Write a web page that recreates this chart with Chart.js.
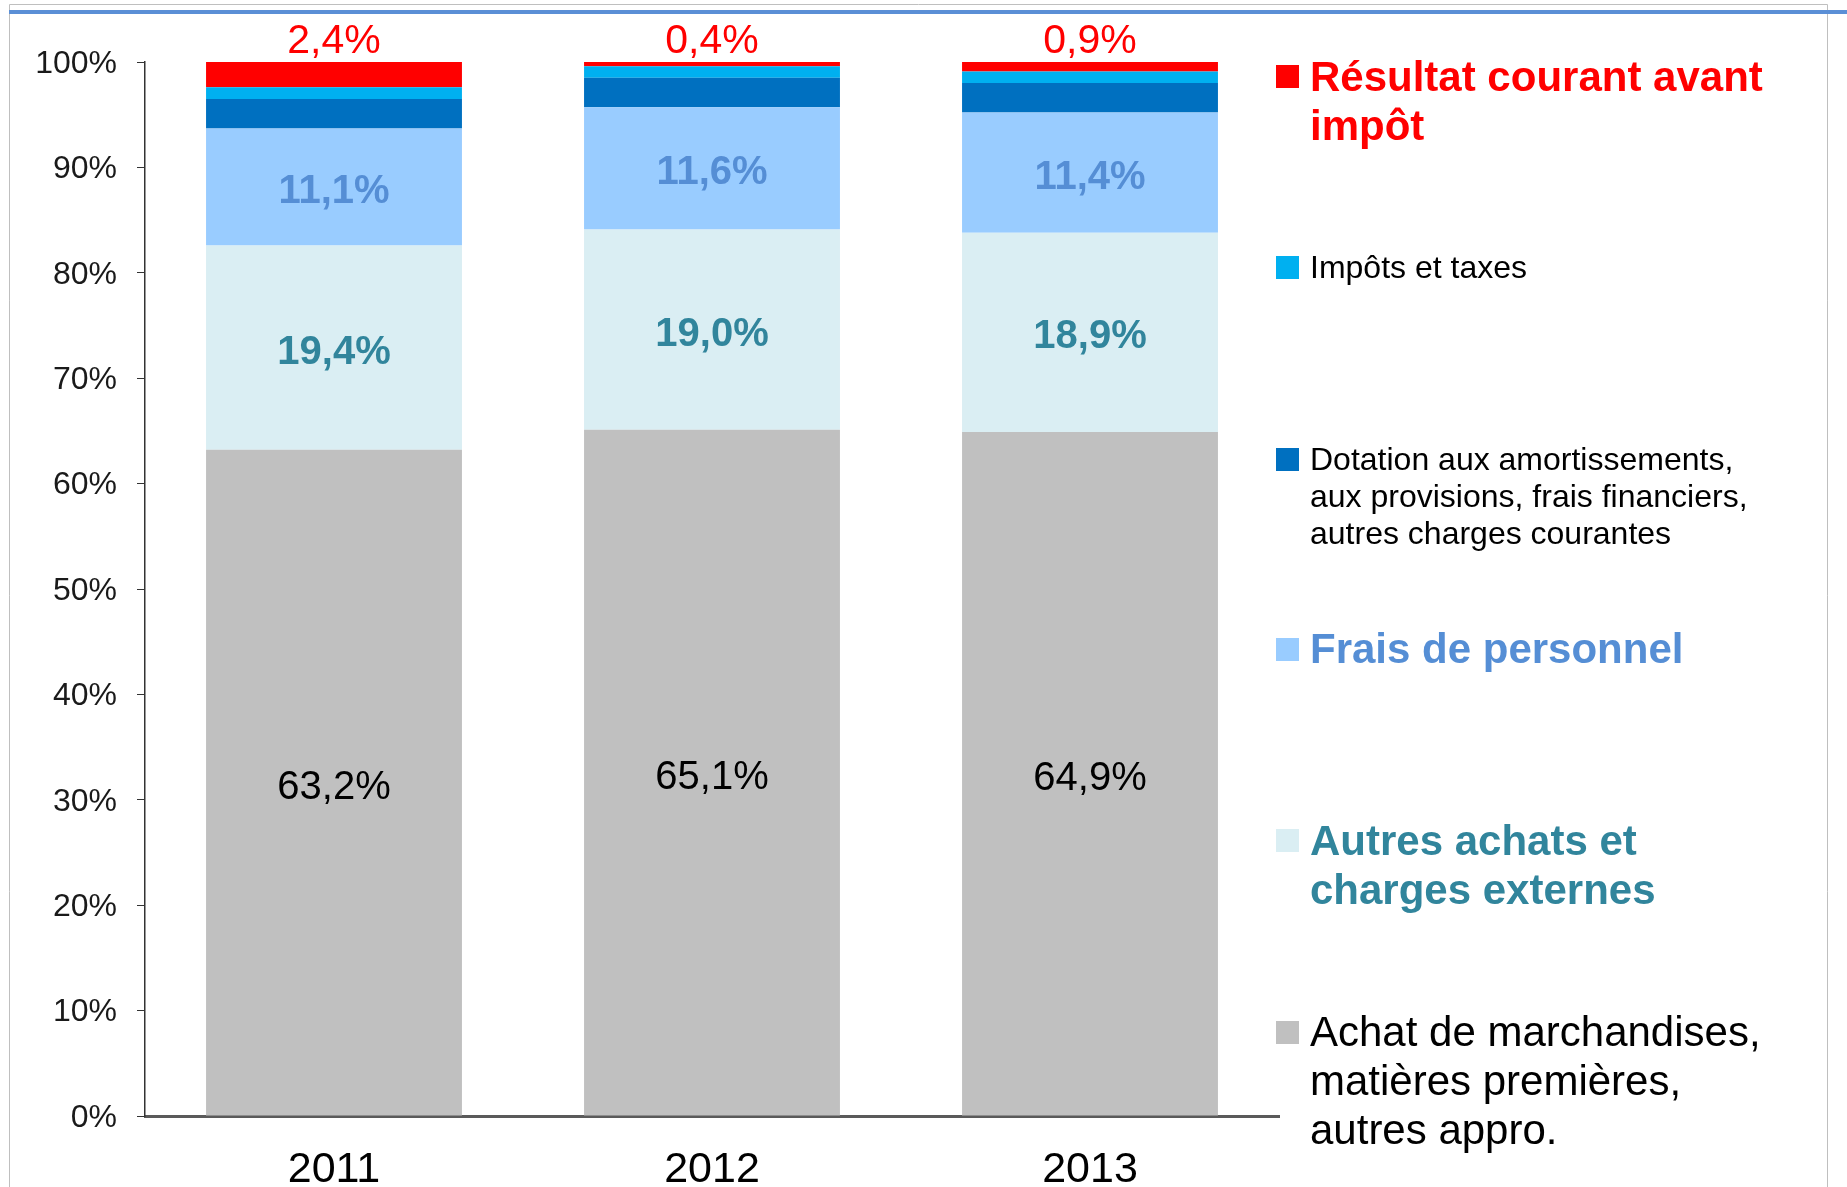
<!DOCTYPE html>
<html>
<head>
<meta charset="utf-8">
<script src="https://cdn.jsdelivr.net/npm/chart.js@4.4.0/dist/chart.umd.min.js"></script>
<style>
  html, body { margin: 0; padding: 0; background: #fff; }
  canvas { display: block; }
</style>
</head>
<body>
<canvas id="chart" width="1847" height="1187"></canvas>
<script>
// data
const years = ['2011', '2012', '2013'];
const achat = [63.2, 65.1, 64.9];
const autres = [19.4, 19.0, 18.9];
const frais = [11.1, 11.6, 11.4];
const dotation = [2.8, 2.8, 2.8];
const impots = [1.1, 1.1, 1.1];
const resultat = [2.4, 0.4, 0.9];
const yTicks = [0, 10, 20, 30, 40, 50, 60, 70, 80, 90, 100];

const FONT = '"Liberation Sans", Arial, sans-serif';

function pct(v) {
    return v.toFixed(1).replace('.', ',') + '%';
}

// labels inside / above the bars
const labelStyle = {
    0: { font: '40px ' + FONT, color: '#000000' },
    1: { font: 'bold 40px ' + FONT, color: '#31859C' },
    2: { font: 'bold 40px ' + FONT, color: '#558ED5' },
    5: { font: '41px ' + FONT, color: '#FF0000', above: true }
};

const barLabels = {
    id: 'barLabels',
    afterDatasetsDraw(chart) {
        const ctx = chart.ctx;
        ctx.save();
        ctx.textAlign = 'center';
        ctx.textBaseline = 'middle';
        chart.data.datasets.forEach((ds, i) => {
            const st = labelStyle[i];
            if (!st) return;
            const meta = chart.getDatasetMeta(i);
            meta.data.forEach((bar, j) => {
                ctx.font = st.font;
                ctx.fillStyle = st.color;
                const y = st.above ? bar.y - 20 : (bar.y + bar.base) / 2 + 5;
                ctx.fillText(pct(ds.data[j]), bar.x, y);
            });
        });
        ctx.restore();
    }
};

// legend on the right, each entry at its own height
const legendItems = [
    { color: '#FF0000', box: 65, lines: ['Résultat courant avant', 'impôt'], base: [91, 140], font: 'bold 42px ' + FONT, text: '#FF0000' },
    { color: '#00B0F0', box: 256, lines: ['Impôts et taxes'], base: [278], font: '32px ' + FONT, text: '#000000' },
    { color: '#0070C0', box: 448, lines: ['Dotation aux amortissements,', 'aux provisions, frais financiers,', 'autres charges courantes'], base: [470, 507, 544], font: '32px ' + FONT, text: '#000000' },
    { color: '#99CCFF', box: 638, lines: ['Frais de personnel'], base: [663], font: 'bold 42px ' + FONT, text: '#558ED5' },
    { color: '#DAEEF3', box: 829, lines: ['Autres achats et', 'charges externes'], base: [855, 904], font: 'bold 42px ' + FONT, text: '#31859C' },
    { color: '#C0C0C0', box: 1021, lines: ['Achat de marchandises,', 'matières premières,', 'autres appro.'], base: [1046, 1095, 1144], font: '42px ' + FONT, text: '#000000' }
];

const sideLegend = {
    id: 'sideLegend',
    afterDraw(chart) {
        const ctx = chart.ctx;
        ctx.save();
        ctx.textAlign = 'left';
        ctx.textBaseline = 'alphabetic';
        legendItems.forEach(it => {
            ctx.fillStyle = it.color;
            ctx.fillRect(1276, it.box, 23, 23);
            ctx.font = it.font;
            ctx.fillStyle = it.text;
            it.lines.forEach((l, k) => ctx.fillText(l, 1310, it.base[k]));
        });
        ctx.restore();
    }
};

// slide frame
const frame = {
    id: 'frame',
    beforeDraw(chart) {
        const ctx = chart.ctx;
        ctx.save();
        ctx.strokeStyle = '#BFBFBF';
        ctx.lineWidth = 1;
        ctx.beginPath();
        ctx.moveTo(9.5, 1187);
        ctx.lineTo(9.5, 4.5);
        ctx.lineTo(1827.5, 4.5);
        ctx.lineTo(1827.5, 1187);
        ctx.stroke();
        ctx.fillStyle = '#5B8FD6';
        ctx.fillRect(9, 10, 1838, 4);
        ctx.restore();
    }
};

function series(label, data, color) {
    return { label: label, data: data, backgroundColor: color, borderWidth: 0,
             barPercentage: 0.677, categoryPercentage: 1 };
}

new Chart(document.getElementById('chart'), {
    type: 'bar',
    data: {
        labels: years,
        datasets: [
            series('Achat de marchandises, matières premières, autres appro.', achat, '#C0C0C0'),
            series('Autres achats et charges externes', autres, '#DAEEF3'),
            series('Frais de personnel', frais, '#99CCFF'),
            series('Dotation aux amortissements, aux provisions, frais financiers, autres charges courantes', dotation, '#0070C0'),
            series('Impôts et taxes', impots, '#00B0F0'),
            series('Résultat courant avant impôt', resultat, '#FF0000')
        ]
    },
    options: {
        responsive: false,
        animation: false,
        layout: { padding: { left: 0, top: 62, right: 568, bottom: 0 } },
        plugins: {
            legend: { display: false },
            tooltip: { enabled: false }
        },
        scales: {
            x: {
                stacked: true,
                afterFit: s => { s.height = 71; },
                grid: { display: false, drawTicks: false },
                border: { display: true, color: '#5A5A5A', width: 3 },
                ticks: { color: '#000', padding: 28, font: { family: FONT, size: 43 } }
            },
            y: {
                stacked: true,
                min: 0,
                max: 100,
                afterFit: s => { s.width = 145; },
                afterBuildTicks: s => { s.ticks = yTicks.map(v => ({ value: v })); },
                grid: { drawOnChartArea: false, drawTicks: true, tickLength: 8, color: '#333' },
                border: { display: true, color: '#333', width: 1.5 },
                ticks: {
                    color: '#1A1A1A',
                    padding: 20,
                    labelOffset: 2,
                    font: { family: FONT, size: 32 },
                    callback: v => v + '%'
                }
            }
        }
    },
    plugins: [frame, barLabels, sideLegend]
});
</script>
</body>
</html>
